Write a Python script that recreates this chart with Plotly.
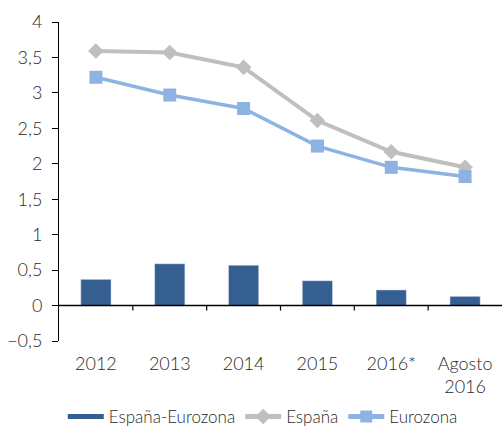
import plotly.graph_objects as go

categories = ["2012", "2013", "2014", "2015", "2016*", "Agosto<br>2016"]
diferencial = [0.37, 0.59, 0.57, 0.35, 0.22, 0.13]
espana = [3.59, 3.57, 3.36, 2.61, 2.17, 1.95]
eurozona = [3.22, 2.97, 2.78, 2.25, 1.95, 1.82]

FONT = "Lato"
BAR_C = "#355F91"
fig = go.Figure()
fig.add_trace(go.Bar(x=categories, y=diferencial, name="España-Eurozona",
                     marker=dict(color=BAR_C), width=0.41, showlegend=False))
# legend entry with a wide swatch for the bars
fig.add_trace(go.Scatter(x=[categories[0]], y=[None], name="España-Eurozona", mode="lines",
                         line=dict(color=BAR_C, width=13), hoverinfo="skip"))
fig.add_trace(go.Scatter(x=categories, y=espana, name="España", mode="lines+markers",
                         line=dict(color="#BFBFBF", width=4),
                         marker=dict(symbol="diamond", size=12, color="#BFBFBF")))
fig.add_trace(go.Scatter(x=categories, y=eurozona, name="Eurozona", mode="lines+markers",
                         line=dict(color="#8DB3E2", width=3.5),
                         marker=dict(symbol="square", size=13, color="#8DB3E2")))

ymin, ymax = -0.5, 4
TICK_LEN = 0.07  # ~5 px in data units

# horizontal axis line at zero
fig.add_shape(type="line", xref="paper", yref="y", x0=0, x1=1, y0=0, y1=0,
              line=dict(color="#000", width=1.5), layer="above")
# small downward ticks on the zero line at category boundaries
for i in range(len(categories) - 1):
    fig.add_shape(type="line", xref="x", yref="y", x0=i + 0.5, x1=i + 0.5,
                  y0=0, y1=-TICK_LEN, line=dict(color="#000", width=1.2), layer="above")

fig.update_layout(
    width=502, height=428,
    margin=dict(l=59, r=0, t=22, b=87, autoexpand=False),
    paper_bgcolor="white", plot_bgcolor="white",
    separators=", ",
    font=dict(family=FONT, size=18, color="#2a2a2a", weight=300),
    showlegend=True,
    legend=dict(orientation="h", x=0.46, xanchor="center", y=-0.238, yanchor="middle",
                font=dict(size=17), itemwidth=36, traceorder="normal",
                tracegroupgap=0, itemsizing="constant"),
    xaxis=dict(type="category", showline=False, ticks="", showgrid=False, automargin=False,
               zeroline=False, range=[-0.5, 5.5], tickfont=dict(size=18),
               ticklabelstandoff=10),
    yaxis=dict(range=[ymin, ymax], dtick=0.5, tick0=0, showline=True, linecolor="#000",
               linewidth=1, ticks="outside", ticklen=6, tickcolor="#000", automargin=False,
               showgrid=False, zeroline=False,
               tickfont=dict(size=18), ticklabelstandoff=6),
)
fig.write_html("out.html", config={"displayModeBar": False},
               post_script="document.body.style.margin='0';document.body.style.overflow='hidden';")
